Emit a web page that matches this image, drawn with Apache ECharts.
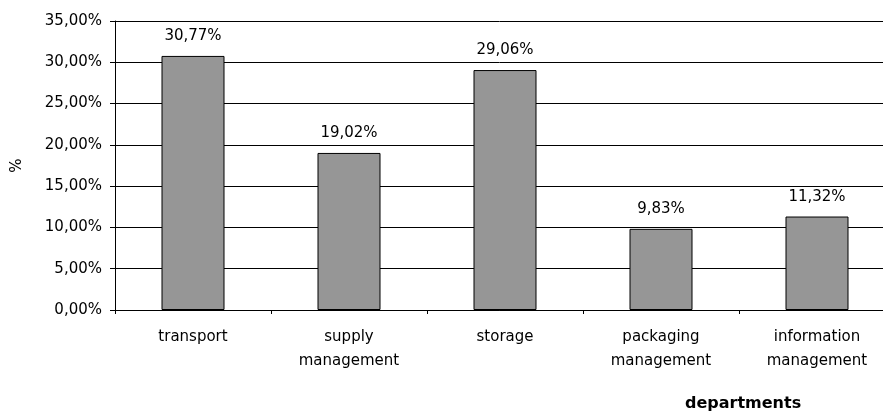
<!DOCTYPE html>
<html>
<head>
<meta charset="utf-8">
<script src="https://cdn.jsdelivr.net/npm/echarts@6/dist/echarts.min.js"></script>
<style>
  html, body { margin: 0; padding: 0; background: #fff; }
  #chart { width: 883px; height: 412px; }
</style>
</head>
<body>
<div id="chart"></div>
<script>
// Share of logistics cost by department
const categories = ['transport', 'supply\nmanagement', 'storage', 'packaging\nmanagement', 'information\nmanagement'];
const shares = [30.77, 19.02, 29.06, 9.83, 11.32];
const yTicks = { min: 0, max: 35, step: 5 };

const fmt = v => v.toFixed(2).replace('.', ',') + '%';
const font = 'DejaVu Sans, Verdana, sans-serif';

const chart = echarts.init(document.getElementById('chart'), null, { renderer: 'canvas' });
chart.setOption({
  animation: false,
  backgroundColor: '#fff',
  title: {
    text: 'departments',
    left: 685,
    top: 396,
    padding: 0,
    textStyle: { fontFamily: font, fontSize: 16, fontWeight: 'bold', color: '#000' }
  },
  grid: { left: 115, top: 21, width: 780, height: 289, containLabel: false, outerBoundsMode: 'none' },
  xAxis: {
    type: 'category',
    data: categories,
    axisLine: { lineStyle: { color: '#000', width: 1 } },
    axisTick: { show: true, length: 4, lineStyle: { color: '#000' } },
    axisLabel: { fontFamily: font, fontSize: 15, color: '#000', margin: 15, lineHeight: 24, interval: 0 }
  },
  yAxis: {
    type: 'value',
    min: yTicks.min,
    max: yTicks.max,
    interval: yTicks.step,
    name: '%',
    nameLocation: 'middle',
    nameGap: 90,
    nameRotate: 90,
    nameTextStyle: { fontFamily: font, fontSize: 15, color: '#000' },
    axisLine: { show: true, lineStyle: { color: '#000', width: 1 } },
    axisTick: { show: true, length: 5, lineStyle: { color: '#000' } },
    axisLabel: { fontFamily: font, fontSize: 15, color: '#000', margin: 13, formatter: v => fmt(v) },
    splitLine: { show: true, lineStyle: { color: '#000', width: 1 } }
  },
  series: [{
    type: 'bar',
    data: shares,
    barWidth: 63,
    itemStyle: { color: '#969696', borderColor: '#000', borderWidth: 1 },
    label: {
      show: true,
      position: 'top',
      distance: 12,
      fontFamily: font,
      fontSize: 15,
      color: '#000',
      formatter: p => fmt(p.value)
    }
  }]
});
</script>
</body>
</html>
